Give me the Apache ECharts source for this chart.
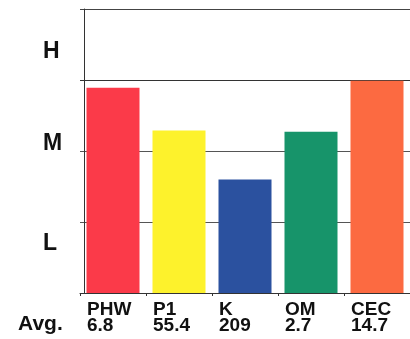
<!DOCTYPE html>
<html>
<head>
<meta charset="utf-8">
<script src="https://cdn.jsdelivr.net/npm/echarts@6/dist/echarts.min.js"></script>
<style>
html,body{margin:0;padding:0;background:#fff;}
#c{width:410px;height:339px;}
</style>
</head>
<body>
<div id="c"></div>
<script>
// Data
const categories = ['PHW', 'P1', 'K', 'OM', 'CEC'];
const averages = ['6.8', '55.4', '209', '2.7', '14.7'];
const levels = [2.89, 2.29, 1.60, 2.27, 2.99];
const barColors = ['#fb3a49', '#fdf22c', '#2b519f', '#17946a', '#fc6a41'];
const levelLabels = { 7: 'L', 21: 'M', 34: 'H' };
const rowTitle = 'Avg.';

const FONT = '"Liberation Sans", Arial, sans-serif';
const chart = echarts.init(document.getElementById('c'), null, { renderer: 'canvas' });

chart.setOption({
  animation: false,
  backgroundColor: '#ffffff',
  grid: { left: 80, right: -3, top: 9, bottom: 46, containLabel: false },
  xAxis: {
    type: 'category',
    data: categories,
    boundaryGap: true,
    axisLine: { show: true, lineStyle: { color: '#333', width: 1 } },
    axisTick: { show: true, length: 3, lineStyle: { color: '#333' } },
    axisLabel: {
      interval: 0,
      margin: 9,
      width: 52,
      align: 'center',
      formatter: function (v, i) {
        return '{a|' + v + '}\n{a|' + averages[i] + '}';
      },
      rich: {
        a: { align: 'left', fontFamily: FONT, fontWeight: 'bold', fontSize: 19, lineHeight: 16, color: '#111' }
      }
    }
  },
  yAxis: [
    {
      type: 'value',
      min: 0, max: 4, interval: 1,
      offset: -4,
      axisLine: { show: true, lineStyle: { color: '#333', width: 1 } },
      axisTick: { show: false },
      axisLabel: { show: false },
      splitLine: { show: true, lineStyle: { color: ['#333', '#555', '#555', '#333', '#444'], width: 1 } }
    },
    {
      type: 'value',
      min: 0, max: 40, interval: 1,
      position: 'left',
      axisLine: { show: false },
      axisTick: { show: false },
      splitLine: { show: false },
      axisLabel: {
        show: true,
        margin: 37,
        align: 'left',
        fontFamily: FONT,
        fontWeight: 'bold',
        fontSize: 23,
        color: '#111',
        formatter: function (v) { return levelLabels[v] || ''; }
      }
    }
  ],
  graphic: [
    {
      type: 'text',
      left: 18,
      top: 314,
      style: { text: rowTitle, fontFamily: FONT, fontWeight: 'bold', fontSize: 21, fill: '#111' }
    }
  ],
  series: [
    {
      type: 'bar',
      yAxisIndex: 0,
      barWidth: 53,
      data: levels.map((v, i) => ({ value: v, itemStyle: { color: barColors[i] } }))
    }
  ]
});
</script>
</body>
</html>
